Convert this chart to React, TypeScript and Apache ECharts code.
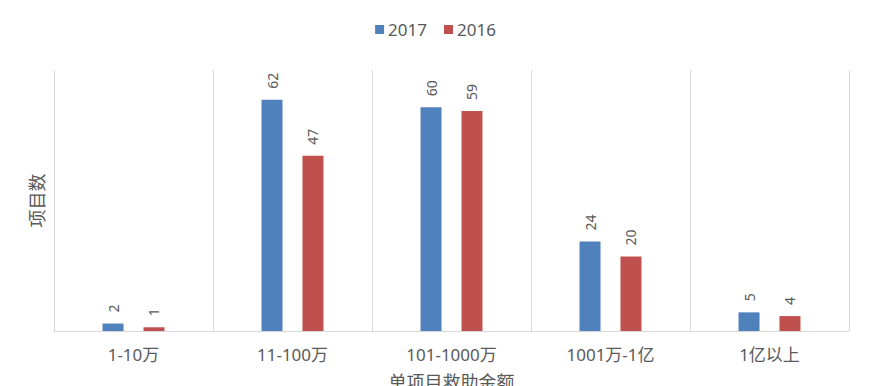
import React, { useEffect, useRef } from "react";
import * as echarts from "echarts";

const categories = ["1-10万", "11-100万", "101-1000万", "1001万-1亿", "1亿以上"];
const series2017 = [2, 62, 60, 24, 5];
const series2016 = [1, 47, 59, 20, 4];
const seriesNames = ["2017", "2016"];
const yAxisName = "项目数";
const xAxisName = "单项目救助金额";

const FONT = "'Noto Sans', 'Noto Sans CJK SC', sans-serif";

export default function App() {
  const ref = useRef<HTMLDivElement>(null);
  useEffect(() => {
    if (!ref.current) return;
    const chart = echarts.init(ref.current, null, { renderer: "svg" });
    const label = {
      show: true,
      position: "top",
      rotate: 90,
      align: "left",
      verticalAlign: "middle",
      distance: 11,
      color: "#595959",
      fontSize: 14,
      fontFamily: FONT,
    };
    chart.setOption({
      animation: false,
      backgroundColor: "#ffffff",
      textStyle: { fontFamily: FONT },
      legend: {
        data: seriesNames,
        top: 16,
        left: "center",
        itemWidth: 9,
        itemHeight: 9,
        itemGap: 17,
        icon: "rect",
        textStyle: { fontSize: 17, color: "#595959", fontFamily: FONT, padding: [0, 0, 0, -1] },
      },
      grid: {
        left: 54,
        right: 22,
        top: 70,
        bottom: 55,
        containLabel: false,
        outerBoundsMode: "none",
      },
      xAxis: {
        type: "category",
        data: categories,
        boundaryGap: true,
        axisLine: { show: true, lineStyle: { color: "#D9D9D9", width: 1 } },
        axisTick: { show: false },
        splitLine: { show: true, lineStyle: { color: "#D9D9D9", width: 1 } },
        axisLabel: { color: "#595959", fontSize: 17, margin: 15, fontFamily: FONT },
        name: xAxisName,
        nameLocation: "middle",
        nameGap: 42,
        nameTextStyle: { color: "#595959", fontSize: 18, fontFamily: FONT },
      },
      yAxis: {
        type: "value",
        min: 0,
        max: 70,
        interval: 10,
        axisLine: { show: false },
        axisTick: { show: false },
        axisLabel: { show: false },
        splitLine: { show: false },
        name: yAxisName,
        nameLocation: "middle",
        nameGap: 8,
        nameRotate: 90,
        nameTextStyle: { color: "#595959", fontSize: 18, fontFamily: FONT },
      },
      series: [
        {
          name: seriesNames[0],
          type: "bar",
          data: series2017,
          barWidth: 21,
          barGap: "95%",
          itemStyle: { color: "#4F81BD" },
          label,
        },
        {
          name: seriesNames[1],
          type: "bar",
          data: series2016,
          barWidth: 21,
          barGap: "95%",
          itemStyle: { color: "#C0504D" },
          label,
        },
      ],
    });
    return () => chart.dispose();
  }, []);
  return (
    <div
      ref={ref}
      style={{ position: "fixed", left: 0, top: 0, width: 871, height: 386, background: "#fff" }}
    />
  );
}
